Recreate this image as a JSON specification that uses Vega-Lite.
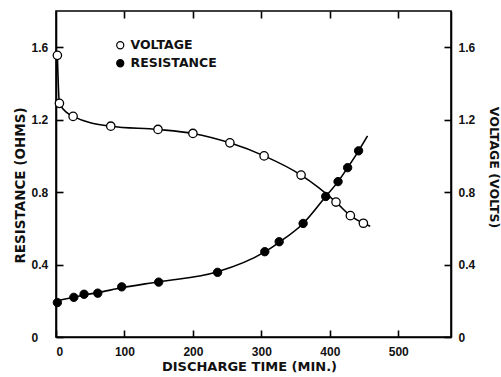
{
  "$schema": "https://vega.github.io/schema/vega-lite/v6.json",
  "width": 395,
  "height": 326,
  "autosize": "none",
  "padding": {"left": 56, "top": 11, "right": 50, "bottom": 40},
  "background": "white",
  "config": {
    "view": {"stroke": "black", "strokeWidth": 1.6},
    "font": "Liberation Sans",
    "axis": {
      "domainColor": "black",
      "domainWidth": 1.6,
      "tickColor": "black",
      "tickWidth": 1.6,
      "tickSize": -7,
      "grid": false,
      "labelColor": "#111",
      "labelFont": "Liberation Sans",
      "labelFontWeight": "bold",
      "labelFontSize": 12,
      "titleFont": "DejaVu Sans",
      "titleFontWeight": "bold",
      "titleFontSize": 13,
      "titleColor": "#111"
    }
  },
  "datasets": {
    "markers": [
      {"series": "VOLTAGE", "time": 2, "value": 1.555},
      {"series": "VOLTAGE", "time": 5, "value": 1.29},
      {"series": "VOLTAGE", "time": 25, "value": 1.218},
      {"series": "VOLTAGE", "time": 80, "value": 1.164},
      {"series": "VOLTAGE", "time": 149, "value": 1.146},
      {"series": "VOLTAGE", "time": 200, "value": 1.124},
      {"series": "VOLTAGE", "time": 254, "value": 1.072},
      {"series": "VOLTAGE", "time": 304, "value": 1.0},
      {"series": "VOLTAGE", "time": 358, "value": 0.894},
      {"series": "VOLTAGE", "time": 409, "value": 0.745},
      {"series": "VOLTAGE", "time": 430, "value": 0.67},
      {"series": "VOLTAGE", "time": 449, "value": 0.628},
      {"series": "RESISTANCE", "time": 2, "value": 0.19},
      {"series": "RESISTANCE", "time": 26, "value": 0.219},
      {"series": "RESISTANCE", "time": 41, "value": 0.236},
      {"series": "RESISTANCE", "time": 61, "value": 0.242},
      {"series": "RESISTANCE", "time": 96, "value": 0.277},
      {"series": "RESISTANCE", "time": 150, "value": 0.303},
      {"series": "RESISTANCE", "time": 236, "value": 0.357},
      {"series": "RESISTANCE", "time": 305, "value": 0.471},
      {"series": "RESISTANCE", "time": 326, "value": 0.526},
      {"series": "RESISTANCE", "time": 361, "value": 0.627},
      {"series": "RESISTANCE", "time": 394, "value": 0.776},
      {"series": "RESISTANCE", "time": 412, "value": 0.858},
      {"series": "RESISTANCE", "time": 426, "value": 0.935},
      {"series": "RESISTANCE", "time": 442, "value": 1.028}
    ],
    "curves": [
      {"series": "VOLTAGE", "time": 2, "value": 1.555},
      {"series": "VOLTAGE", "time": 5, "value": 1.29},
      {"series": "VOLTAGE", "time": 25, "value": 1.218},
      {"series": "VOLTAGE", "time": 80, "value": 1.164},
      {"series": "VOLTAGE", "time": 149, "value": 1.146},
      {"series": "VOLTAGE", "time": 200, "value": 1.124},
      {"series": "VOLTAGE", "time": 254, "value": 1.072},
      {"series": "VOLTAGE", "time": 304, "value": 1.0},
      {"series": "VOLTAGE", "time": 358, "value": 0.894},
      {"series": "VOLTAGE", "time": 409, "value": 0.745},
      {"series": "VOLTAGE", "time": 430, "value": 0.67},
      {"series": "VOLTAGE", "time": 449, "value": 0.628},
      {"series": "VOLTAGE", "time": 459, "value": 0.612},
      {"series": "RESISTANCE", "time": 0, "value": 0.2},
      {"series": "RESISTANCE", "time": 26, "value": 0.219},
      {"series": "RESISTANCE", "time": 41, "value": 0.232},
      {"series": "RESISTANCE", "time": 61, "value": 0.245},
      {"series": "RESISTANCE", "time": 96, "value": 0.272},
      {"series": "RESISTANCE", "time": 150, "value": 0.305},
      {"series": "RESISTANCE", "time": 236, "value": 0.36},
      {"series": "RESISTANCE", "time": 305, "value": 0.47},
      {"series": "RESISTANCE", "time": 326, "value": 0.523},
      {"series": "RESISTANCE", "time": 361, "value": 0.627},
      {"series": "RESISTANCE", "time": 394, "value": 0.776},
      {"series": "RESISTANCE", "time": 412, "value": 0.858},
      {"series": "RESISTANCE", "time": 426, "value": 0.935},
      {"series": "RESISTANCE", "time": 442, "value": 1.028},
      {"series": "RESISTANCE", "time": 455, "value": 1.11}
    ]
  },
  "layer": [
    {
      "encoding": {
        "x": {"field": "time", "type": "quantitative", "scale": {"domain": [0, 577], "nice": false},
          "axis": {"orient": "bottom", "title": "DISCHARGE TIME (MIN.)", "values": [0, 100, 200, 300, 400, 500], "labelPadding": 16,
            "titleX": 193, "titleY": 29, "titleBaseline": "middle", "titleAnchor": "middle"}},
        "y": {"field": "value", "type": "quantitative", "scale": {"domain": [0, 1.8], "nice": false},
          "axis": {"orient": "left", "title": "RESISTANCE (OHMS)", "values": [0, 0.4, 0.8, 1.2, 1.6], "titleFontSize": 13.5,
            "labelExpr": "datum.value == 0 ? '0' : format(datum.value, '.1f')", "labelAlign": "left", "labelPadding": 32,
            "titleX": -36, "titleY": 174, "titleBaseline": "middle", "titleAnchor": "middle"}}
      },
      "layer": [
        {
          "data": {"name": "curves"},
          "transform": [{"filter": "datum.series == 'RESISTANCE'"}],
          "mark": {"type": "line", "interpolate": "monotone", "color": "black", "strokeWidth": 1.6}
        },
        {
          "data": {"name": "markers"},
          "transform": [{"filter": "datum.series == 'RESISTANCE'"}],
          "mark": {"type": "point", "filled": true, "stroke": "black", "strokeWidth": 1, "size": 70, "opacity": 1},
          "encoding": {
            "fill": {"field": "series", "type": "nominal", "scale": {"domain": ["VOLTAGE", "RESISTANCE"], "range": ["white", "black"]},
              "legend": {"title": null, "orient": "none", "legendX": 58, "legendY": 28, "padding": 0, "symbolType": "circle", "symbolSize": 50,
                "symbolStrokeColor": "black", "symbolStrokeWidth": 1.2, "labelFont": "DejaVu Sans", "labelFontWeight": "bold", "labelFontSize": 12.5,
                "labelColor": "#111", "labelOffset": 4, "rowPadding": 5}}
          }
        }
      ]
    },
    {
      "encoding": {
        "x": {"field": "time", "type": "quantitative", "scale": {"domain": [0, 577], "nice": false},
          "axis": {"orient": "top", "title": null, "labels": false, "values": [100, 200, 300, 400, 500], "domain": false}},
        "y": {"field": "value", "type": "quantitative", "scale": {"domain": [0, 1.8], "nice": false},
          "axis": {"orient": "right", "title": "VOLTAGE (VOLTS)", "values": [0, 0.4, 0.8, 1.2, 1.6], "titleFontSize": 12.5,
            "labelExpr": "datum.value == 0 ? '0' : format(datum.value, '.1f')", "labelAlign": "left", "labelPadding": 14,
            "titleX": 42, "titleY": 156, "titleBaseline": "middle", "titleAnchor": "middle"}}
      },
      "layer": [
        {
          "data": {"name": "curves"},
          "transform": [{"filter": "datum.series == 'VOLTAGE'"}],
          "mark": {"type": "line", "interpolate": "monotone", "color": "black", "strokeWidth": 1.6}
        },
        {
          "data": {"name": "markers"},
          "transform": [{"filter": "datum.series == 'VOLTAGE'"}],
          "mark": {"type": "point", "filled": true, "stroke": "black", "strokeWidth": 1.3, "size": 70, "opacity": 1},
          "encoding": {
            "fill": {"field": "series", "type": "nominal"}
          }
        }
      ]
    }
  ],
  "resolve": {"scale": {"y": "independent"}, "axis": {"x": "independent"}}
}
